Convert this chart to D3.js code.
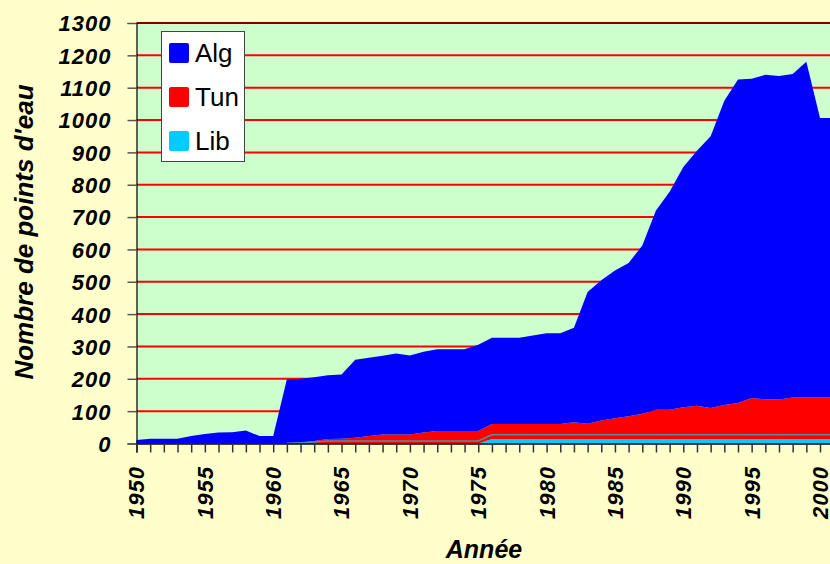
<!DOCTYPE html>
<html lang="fr">
<head>
<meta charset="UTF-8">
<script src="https://d3js.org/d3.v7.min.js"></script>
<style>
  body { margin: 0; background: #FFFFCC; }
  svg { display: block; }
  .lbl { font-family: "Liberation Sans", Arial, sans-serif; font-weight: bold; font-style: italic; fill: #000; }
  .tickLbl { letter-spacing: 1px; }
  .leg { font-family: "Liberation Sans", Arial, sans-serif; fill: #000; }
</style>
</head>
<body>
<div id="chart"></div>
<script>
// years 1950 -> 2001
const years = d3.range(1950, 2002);
const alg = [11, 15, 15, 15, 23, 29, 34, 35, 40, 23, 23,
             198, 197, 197, 197, 198, 241, 242, 243, 250, 244,
             250, 252, 252, 252, 266, 267, 267, 267, 274, 281,
             281, 292, 407, 434, 457, 474, 520, 616, 674, 743,
             788, 840, 941, 1000, 987, 1004, 1000, 1000, 1038, 864, 864];
const tun = [0, 0, 0, 0, 0, 0, 0, 0, 0, 0, 0,
             1, 3, 8, 14, 15, 18, 23, 28, 28, 28,
             34, 39, 39, 39, 39, 46, 46, 46, 46, 46,
             46, 52, 47, 57, 64, 70, 78, 90, 90, 98,
             103, 96, 105, 111, 127, 122, 122, 128, 128, 128, 128];
const lib = [0, 0, 0, 0, 0, 0, 0, 0, 0, 0, 0,
             0, 0, 0, 0, 0, 0, 0, 0, 0, 0,
             0, 0, 0, 0, 0, 14, 14, 14, 14, 14,
             14, 14, 14, 14, 14, 14, 14, 14, 14, 14,
             14, 14, 14, 14, 14, 14, 14, 14, 14, 14, 14];
// level of the thin grey border inside the Tun band
const tunLine = [0, 0, 0, 0, 0, 0, 0, 0, 0, 0, 0,
                 0.5, 2, 5, 8, 8, 8, 8, 8, 8, 8,
                 8, 8, 8, 8, 8, 13, 13, 13, 13, 13,
                 13, 13, 13, 13, 13, 13, 13, 13, 13, 13,
                 13, 13, 13, 13, 13, 13, 13, 13, 13, 13, 13];
const yTicks = d3.range(0, 1301, 100);
const xLabels = [1950, 1955, 1960, 1965, 1970, 1975, 1980, 1985, 1990, 1995, 2000];
const seriesNames = ["Alg", "Tun", "Lib"];
const seriesColors = {Alg: "#0000FF", Tun: "#FF0000", Lib: "#00CCFF"};

const width = 830, height = 564;
const plotLeft = 136.5, plotTop = 23, plotBottom = 443.5;

const svg = d3.select("#chart").append("svg")
    .attr("width", width).attr("height", height);

const x = d3.scaleLinear().domain([1950, 2001]).range([plotLeft, plotLeft + 51 * 13.67]);
const y = d3.scaleLinear().domain([0, 1300]).range([plotBottom, plotTop]);

const rows = years.map((yr, i) => ({year: yr, Lib: lib[i], Tun: tun[i], Alg: alg[i], line: tunLine[i]}));
const stack = d3.stack().keys(["Lib", "Tun", "Alg"])(rows);

// plot background
svg.append("rect")
    .attr("x", plotLeft).attr("y", plotTop)
    .attr("width", width - plotLeft).attr("height", plotBottom - plotTop)
    .attr("fill", "#CCFFCC");

// grid lines
svg.append("g").selectAll("line")
    .data(yTicks.filter(d => d > 0 && d < 1300))
    .join("line")
    .attr("x1", plotLeft).attr("x2", width)
    .attr("y1", d => y(d)).attr("y2", d => y(d))
    .attr("stroke", "#FF0000").attr("stroke-width", 2);

// areas
const area = d3.area()
    .x(d => x(d.data.year))
    .y0(d => y(d[0]))
    .y1(d => y(d[1]));

svg.append("g").selectAll("path")
    .data(stack)
    .join("path")
    .attr("fill", d => seriesColors[d.key])
    .attr("d", area);

// thin grey border inside the red band
svg.append("path")
    .datum(rows.filter(d => d.Tun > 0))
    .attr("fill", "none")
    .attr("stroke", "#4F8FA3")
    .attr("stroke-width", 1.5)
    .attr("d", d3.line().x(d => x(d.year)).y(d => y(d.Lib + d.line)));

// top border
svg.append("line")
    .attr("x1", plotLeft).attr("x2", width)
    .attr("y1", y(1300)).attr("y2", y(1300))
    .attr("stroke", "#800000").attr("stroke-width", 2);

// y axis
const yAxis = svg.append("g")
    .attr("transform", `translate(${plotLeft},0)`)
    .call(d3.axisLeft(y).tickValues(yTicks).tickSize(9).tickPadding(16).tickFormat(d3.format("d")));
yAxis.select(".domain").attr("stroke", "#000").attr("stroke-width", 1.2);
yAxis.selectAll(".tick line").attr("stroke", "#555").attr("stroke-width", 1.5);
yAxis.selectAll("text").attr("class", "lbl tickLbl").attr("font-size", 22).attr("dy", "0.36em");

// x axis
const xAxis = svg.append("g")
    .attr("transform", `translate(0,${plotBottom})`)
    .call(d3.axisBottom(x).tickValues(years).tickSize(9).tickFormat(""));
xAxis.select(".domain").attr("stroke", "#000").attr("stroke-width", 1.5);
xAxis.selectAll(".tick line").attr("stroke", "#333").attr("stroke-width", 1.5);

svg.append("g").selectAll("text")
    .data(xLabels)
    .join("text")
    .attr("class", "lbl tickLbl")
    .attr("font-size", 22)
    .attr("text-anchor", "end")
    .attr("transform", d => `translate(${x(d)},466) rotate(-90)`)
    .attr("dy", "0.36em")
    .text(d => d);

// axis titles
svg.append("text")
    .attr("class", "lbl")
    .attr("font-size", 26)
    .attr("text-anchor", "middle")
    .attr("transform", "translate(33,232) rotate(-90)")
    .text("Nombre de points d'eau");

svg.append("text")
    .attr("class", "lbl")
    .attr("font-size", 25)
    .attr("text-anchor", "middle")
    .attr("x", 484).attr("y", 558)
    .text("Année");

// legend
const legend = svg.append("g").attr("transform", "translate(161,31)");
legend.append("rect")
    .attr("x", 0.5).attr("y", 0.5)
    .attr("width", 83).attr("height", 130)
    .attr("fill", "#FFFFFF").attr("stroke", "#444").attr("stroke-width", 1);
const item = legend.selectAll("g.item")
    .data(seriesNames)
    .join("g")
    .attr("class", "item")
    .attr("transform", (d, i) => `translate(0,${22 + i * 44})`);
item.append("rect")
    .attr("x", 8).attr("y", -10)
    .attr("width", 20).attr("height", 20)
    .attr("rx", 2)
    .attr("fill", d => seriesColors[d]);
item.append("text")
    .attr("class", "leg")
    .attr("x", 34).attr("y", 0)
    .attr("dy", "0.36em")
    .attr("font-size", 26)
    .text(d => d);
</script>
</body>
</html>
